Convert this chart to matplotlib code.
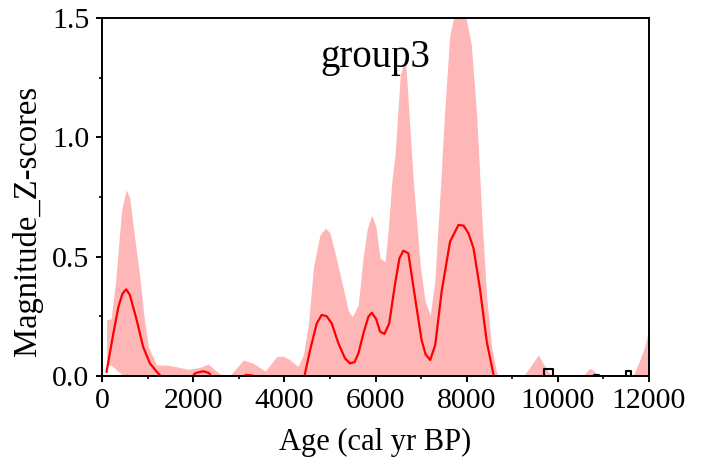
import matplotlib
matplotlib.use("Agg")
import matplotlib.pyplot as plt
from matplotlib.ticker import MultipleLocator

plt.rcParams["font.family"] = ["Liberation Serif", "DejaVu Serif"]

# upper edge of the shaded band
band_age = [100, 200, 300, 430, 530, 610, 700, 830, 920, 1020, 1200, 1400, 1600,
            1900, 2150, 2330, 2480, 2650, 2800, 3100, 3320, 3580, 3830, 3980,
            4125, 4300, 4420, 4530, 4640, 4780, 4900, 5000, 5150, 5300, 5400,
            5490, 5620, 5730, 5820, 5917, 6010, 6100, 6210, 6280, 6360, 6430,
            6540, 6650, 6690, 6830, 6980, 7090, 7200, 7300, 7410, 7520, 7630,
            7860, 8100, 8220, 8330, 8440, 8550, 8650, 8700, 9250, 9400, 9570,
            9700, 9800, 9900, 10550, 10700, 10800, 10920, 11650, 11800, 11900,
            12000]
band_upper = [0.235, 0.24, 0.40, 0.695, 0.78, 0.745, 0.6, 0.415, 0.25, 0.12,
              0.046, 0.046, 0.04, 0.028, 0.036, 0.05, 0.025, 0.0, 0.0, 0.067,
              0.053, 0.02, 0.081, 0.083, 0.067, 0.04, 0.09, 0.22, 0.458, 0.59,
              0.62, 0.6, 0.486, 0.36, 0.276, 0.249, 0.297, 0.5, 0.618, 0.674,
              0.625, 0.493, 0.479, 0.612, 0.82, 0.93, 1.254, 1.338, 1.233,
              0.814, 0.465, 0.311, 0.256, 0.395, 0.745, 1.12, 1.43, 1.62, 1.39,
              1.093, 0.674, 0.326, 0.116, 0.02, 0.0, 0.0, 0.04, 0.088, 0.045,
              0.015, 0.0, 0.0, 0.032, 0.02, 0.0, 0.0, 0.067, 0.12, 0.2]
# lower edge of the band (only above zero near the start)
low_age = [100, 200, 470, 12000]
low_val = [0.045, 0.045, 0.0, 0.0]

# mean magnitude (red line)
mean_age = [100, 250, 360, 450, 530, 610, 760, 900, 1050, 1200, 1380, 1900,
            2050, 2220, 2350, 2450, 3050, 3150, 3300, 3400, 4420, 4560, 4710,
            4820, 4930, 5040, 5185, 5330, 5440, 5540, 5625, 5735, 5845, 5917,
            6010, 6100, 6195, 6300, 6430, 6525, 6610, 6720, 6870, 7010, 7100,
            7200, 7310, 7450, 7635, 7820, 7930, 8040, 8150, 8290, 8440, 8590,
            8620]
mean_val = [0.018, 0.18, 0.29, 0.345, 0.363, 0.34, 0.235, 0.123, 0.053, 0.018,
            -0.02, -0.02, 0.012, 0.02, 0.012, -0.02, -0.02, 0.005, 0.002, -0.02,
            -0.02, 0.105, 0.22, 0.256, 0.25, 0.22, 0.137, 0.074, 0.053, 0.058,
            0.095, 0.179, 0.249, 0.265, 0.24, 0.186, 0.176, 0.22, 0.388, 0.493,
            0.525, 0.514, 0.325, 0.151, 0.09, 0.067, 0.13, 0.353, 0.563, 0.633,
            0.63, 0.598, 0.535, 0.367, 0.144, 0.004, -0.02]

# black step series near the axis
step_age = [9500, 9700, 9900, 10800, 10900, 11500, 11600, 11700]
step_val = [-0.02, 0.028, -0.02, 0.005, -0.02, 0.021, -0.02, -0.02]

import numpy as np

fig = plt.figure(figsize=(7.07, 4.67), dpi=100)
ax = fig.add_axes([0.1443, 0.1949, 0.7737, 0.7666])

low_interp = np.interp(band_age, low_age, low_val)
ax.fill_between(band_age, low_interp, band_upper, color="#ffb6b6", lw=0, zorder=1)
ax.plot(step_age, step_val, color="black", lw=1.5, drawstyle="steps-post", zorder=2)
ax.plot(mean_age, mean_val, color="#ff0000", lw=1.6, zorder=3)

ax.set_xlim(0, 12000)
ax.set_ylim(0, 1.5)
ax.xaxis.set_major_locator(MultipleLocator(2000))
ax.xaxis.set_minor_locator(MultipleLocator(1000))
ax.yaxis.set_major_locator(MultipleLocator(0.5))
ax.yaxis.set_minor_locator(MultipleLocator(0.25))
ax.yaxis.set_major_formatter(matplotlib.ticker.FormatStrFormatter("%.1f"))

for s in ax.spines.values():
    s.set_linewidth(1.4)
    s.set_zorder(5)
ax.tick_params(which="major", direction="out", length=4, width=1.4,
               labelsize=21.5, pad=5)
ax.tick_params(which="minor", direction="out", length=2.5, width=1.2)

ax.set_xlabel("Age (cal yr BP)", fontsize=22, labelpad=10)
ax.set_ylabel("Magnitude_Z-scores", fontsize=23.5)
ax.yaxis.set_label_coords(-0.107, 0.433)

ax.text(0.5, 0.864, "group3", transform=ax.transAxes, ha="center",
        va="baseline", fontsize=28)

fig.savefig("out.png", dpi=100)
